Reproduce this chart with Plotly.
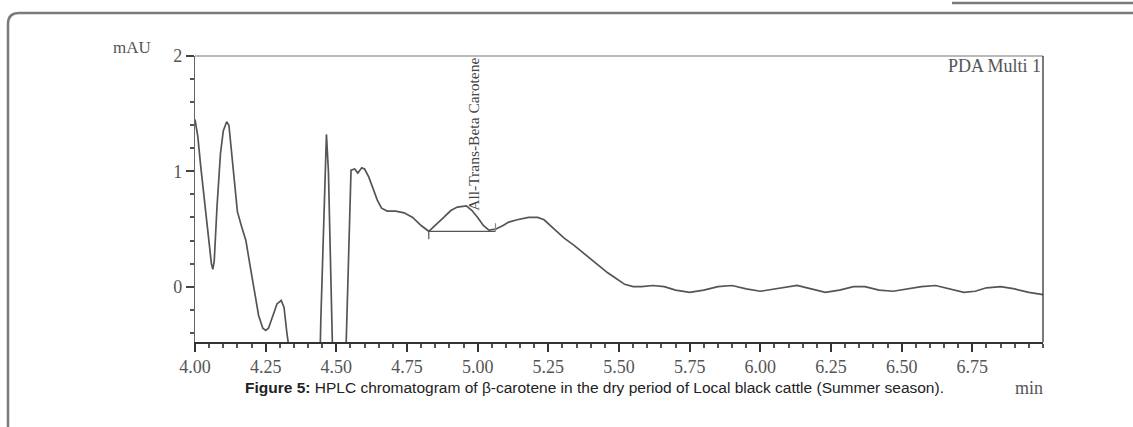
import plotly.graph_objects as go

# ---- data ----
time_min = [4.000, 4.010, 4.020, 4.030, 4.040, 4.050, 4.058, 4.063, 4.068, 4.078,
            4.090, 4.100, 4.112, 4.120, 4.130, 4.140, 4.150, 4.165, 4.180, 4.195,
            4.210, 4.225, 4.240, 4.250, 4.260, 4.275, 4.290, 4.305, 4.315, 4.325,
            4.335, 4.345, 4.360, 4.440, 4.445, 4.455, 4.465, 4.472, 4.480, 4.487,
            4.495, 4.530, 4.537, 4.545, 4.552, 4.565, 4.576, 4.590, 4.600, 4.615,
            4.630, 4.645, 4.660, 4.680, 4.710, 4.740, 4.770, 4.800, 4.827, 4.850,
            4.880, 4.905, 4.928, 4.960, 4.980, 5.000, 5.020, 5.040, 5.065, 5.090,
            5.110, 5.140, 5.180, 5.212, 5.235, 5.270, 5.306, 5.340, 5.370, 5.400,
            5.430, 5.460, 5.490, 5.520, 5.550, 5.580, 5.620, 5.660, 5.700, 5.750,
            5.800, 5.850, 5.900, 5.950, 6.000, 6.050, 6.100, 6.130, 6.180, 6.230,
            6.280, 6.330, 6.370, 6.420, 6.470, 6.520, 6.570, 6.620, 6.670, 6.720,
            6.760, 6.800, 6.850, 6.900, 6.950, 7.000]
signal_mau = [1.45, 1.30, 1.05, 0.80, 0.60, 0.38, 0.20, 0.15, 0.22, 0.70,
              1.15, 1.35, 1.43, 1.40, 1.15, 0.85, 0.65, 0.52, 0.40, 0.18,
              -0.05, -0.25, -0.36, -0.38, -0.36, -0.25, -0.15, -0.12, -0.18, -0.40,
              -0.60, -0.75, -0.90, -0.90, -0.30, 0.60, 1.32, 1.00, 0.20, -0.60,
              -0.90, -0.90, -0.30, 0.50, 1.01, 1.02, 0.985, 1.03, 1.02, 0.95,
              0.85, 0.75, 0.68, 0.655, 0.655, 0.64, 0.60, 0.53, 0.48, 0.53,
              0.60, 0.66, 0.69, 0.70, 0.66, 0.60, 0.53, 0.49, 0.50, 0.53,
              0.56, 0.58, 0.60, 0.60, 0.58, 0.50, 0.42, 0.36, 0.30, 0.24,
              0.18, 0.12, 0.07, 0.02, 0.00, 0.00, 0.01, 0.00, -0.03, -0.05,
              -0.03, 0.00, 0.01, -0.02, -0.04, -0.02, 0.00, 0.01, -0.02, -0.05,
              -0.03, 0.00, 0.00, -0.03, -0.04, -0.02, 0.00, 0.01, -0.02, -0.05,
              -0.04, -0.01, 0.00, -0.02, -0.05, -0.07]

baseline_x = [4.827, 5.063]
baseline_y = [0.48, 0.48]
start_mark_x = [4.827, 4.827]
start_mark_y = [0.48, 0.41]
end_mark_x = [5.063, 5.063]
end_mark_y = [0.48, 0.55]

peak_name = "All-Trans-Beta Carotene"
peak_time = 4.985
x_tick_vals = [4.00, 4.25, 4.50, 4.75, 5.00, 5.25, 5.50, 5.75, 6.00, 6.25, 6.50, 6.75]
y_tick_vals = [0, 1, 2]

# ---- geometry helpers (pixel -> paper) ----
W, H = 1133, 427
L, R, T, B = 195, 90, 56, 85
PW, PH = W - L - R, H - T - B


def px(x):
    return (x - L) / PW


def py(y):
    return (H - B - y) / PH


LINE = "#7a7a7a"
SERIF = "Liberation Serif"

fig = go.Figure()
fig.add_trace(go.Scatter(x=time_min, y=signal_mau, mode="lines",
                         line=dict(color="#555555", width=1.7), showlegend=False))
fig.add_trace(go.Scatter(x=baseline_x, y=baseline_y, mode="lines",
                         line=dict(color="#555", width=1.2), showlegend=False))
fig.add_trace(go.Scatter(x=start_mark_x, y=start_mark_y, mode="lines",
                         line=dict(color="#555", width=1.2), showlegend=False))
fig.add_trace(go.Scatter(x=end_mark_x, y=end_mark_y, mode="lines",
                         line=dict(color="#888", width=1.2), showlegend=False))

fig.update_xaxes(range=[4.0, 7.0], tickvals=x_tick_vals,
                 ticktext=[f"{v:.2f}" for v in x_tick_vals],
                 ticks="outside", ticklen=8, tickcolor="#333", tickwidth=1.5,
                 minor=dict(tick0=4.0, dtick=0.05, ticks="outside", ticklen=4, tickcolor="#555"),
                 showline=True, linecolor="#333", linewidth=1.5, mirror=False,
                 showgrid=False, zeroline=False,
                 tickfont=dict(family=SERIF, size=18, color="#555"))
fig.update_yaxes(range=[-0.48, 2.0], tickvals=y_tick_vals,
                 ticks="outside", ticklen=8, tickcolor="#444", tickwidth=1.5,
                 minor=dict(tick0=0, dtick=0.2, ticks="outside", ticklen=4, tickcolor="#555"),
                 showline=True, linecolor="#666", linewidth=1.2,
                 showgrid=False, zeroline=False,
                 tickfont=dict(family=SERIF, size=18, color="#555"))

shapes = [
    # frame top and right of the plot
    dict(type="line", xref="paper", yref="paper", x0=0, x1=1, y0=1, y1=1,
         line=dict(color="#777", width=1.2)),
    dict(type="line", xref="paper", yref="paper", x0=1, x1=1, y0=0, y1=1,
         line=dict(color="#222", width=1.2)),
    # outer rounded frame
    dict(type="path", xref="paper", yref="paper",
         path=(f"M {px(8)},{py(440)} L {px(8)},{py(24)} "
               f"Q {px(8)},{py(13)} {px(19)},{py(13)} L {px(1140)},{py(13)}"),
         line=dict(color=LINE, width=2.5)),
    # short top line at right edge
    dict(type="line", xref="paper", yref="paper", x0=px(952), x1=px(1140), y0=py(3), y1=py(3),
         line=dict(color=LINE, width=2.5)),
]

annotations = [
    dict(text="mAU", xref="paper", yref="paper", x=px(132), y=py(47),
         xanchor="center", yanchor="middle", showarrow=False,
         font=dict(family=SERIF, size=17, color="#555")),
    dict(text="PDA Multi 1", xref="paper", yref="paper", x=1.0, y=py(66),
         xanchor="right", yanchor="middle", showarrow=False,
         font=dict(family=SERIF, size=18, color="#555")),
    dict(text="min", xref="paper", yref="paper", x=px(1029), y=py(388),
         xanchor="center", yanchor="middle", showarrow=False,
         font=dict(family=SERIF, size=18, color="#555")),
    dict(text="<b>Figure 5:</b> HPLC chromatogram of β-carotene in the dry period of Local black cattle (Summer season).",
         xref="paper", yref="paper", x=px(243), y=py(387),
         xanchor="left", yanchor="middle", showarrow=False,
         font=dict(family="Liberation Sans", size=15.5, color="#222")),
    dict(text=peak_name, x=peak_time, y=0.64, xref="x", yref="y",
         xanchor="center", yanchor="bottom", textangle=-90, showarrow=False,
         font=dict(family=SERIF, size=15.5, color="#444")),
]

fig.update_layout(width=W, height=H, margin=dict(l=L, r=R, t=T, b=B),
                  paper_bgcolor="white", plot_bgcolor="white",
                  shapes=shapes, annotations=annotations, showlegend=False)

fig.write_html("out.html", config={"displayModeBar": False},
               post_script="document.body.style.margin='0';document.body.style.overflow='hidden';")
